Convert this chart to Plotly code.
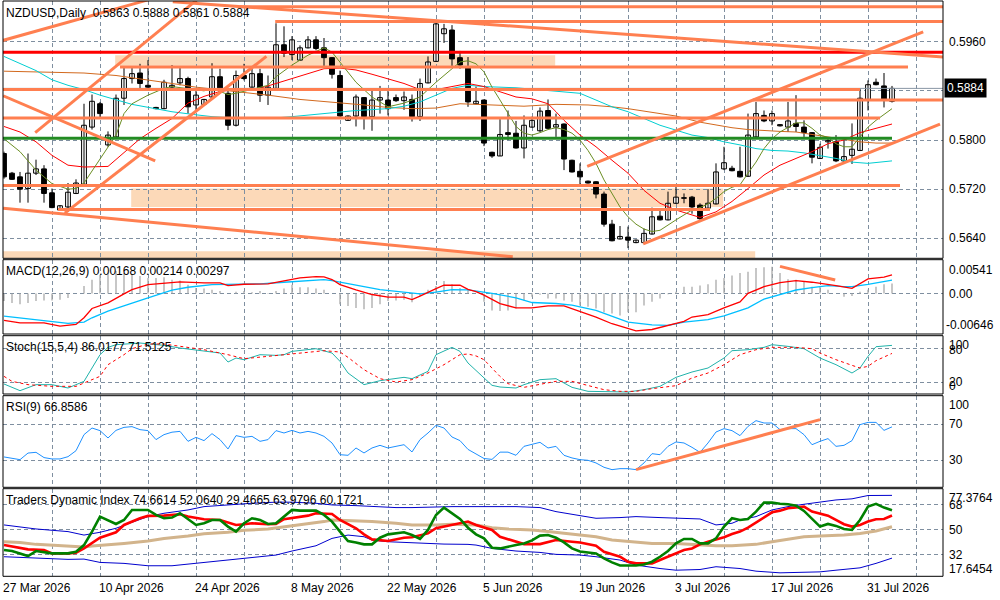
import plotly.graph_objects as go

# ---------------- DATA ----------------
date_labels = ["27 Mar 2026", "10 Apr 2026", "24 Apr 2026", "8 May 2026", "22 May 2026",
               "5 Jun 2026", "19 Jun 2026", "3 Jul 2026", "17 Jul 2026", "31 Jul 2026"]
date_label_bars = [0, 12, 24, 36, 48, 60, 72, 84, 96, 108]
grid_bars = list(range(0, 118, 6))

opens = [0.5778,0.5746,0.5740,0.5721,0.5746,0.5753,0.5714,0.5686,0.5691,0.5713,
         0.5728,0.5821,0.5859,0.5792,0.5805,0.5868,0.5900,0.5909,0.5889,0.5853,
         0.5851,0.5886,0.5893,0.5900,0.5857,0.5858,0.5870,0.5903,0.5876,0.5824,
         0.5905,0.5886,0.5908,0.5873,0.5884,0.5955,0.5939,0.5930,0.5950,0.5963,
         0.5950,0.5934,0.5905,0.5832,0.5839,0.5869,0.5838,0.5865,0.5865,0.5869,
         0.5864,0.5866,0.5838,0.5893,0.5928,0.5973,0.5979,0.5934,0.5919,0.5859,
         0.5865,0.5780,0.5774,0.5812,0.5811,0.5787,0.5821,0.5815,0.5848,0.5821,
         0.5826,0.5767,0.5749,0.5733,0.5732,0.5712,0.5663,0.5639,0.5642,0.5633,
         0.5633,0.5647,0.5676,0.5670,0.5697,0.5705,0.5707,0.5694,0.5689,0.5696,
         0.5753,0.5754,0.5749,0.5741,0.5805,0.5840,0.5831,0.5825,0.5821,0.5827,
         0.5821,0.5812,0.5770,0.5797,0.5797,0.5766,0.5775,0.5783,0.5866,0.5894,
         0.5888,0.5863]
highs = [0.5781,0.5748,0.5748,0.5778,0.5768,0.5759,0.5721,0.5694,0.5730,0.5736,
         0.5859,0.5874,0.5862,0.5814,0.5874,0.5920,0.5919,0.5924,0.5930,0.5854,
         0.5898,0.5922,0.5920,0.5903,0.5884,0.5867,0.5925,0.5916,0.5881,0.5913,
         0.5924,0.5916,0.5916,0.5905,0.5990,0.5985,0.5969,0.5954,0.5969,0.5969,
         0.5966,0.5935,0.5913,0.5840,0.5874,0.5870,0.5884,0.5888,0.5880,0.5874,
         0.5879,0.5874,0.5900,0.5936,0.5992,0.5989,0.5987,0.5945,0.5935,0.5887,
         0.5866,0.5781,0.5834,0.5848,0.5831,0.5840,0.5838,0.5853,0.5866,0.5843,
         0.5827,0.5768,0.5762,0.5734,0.5733,0.5716,0.5670,0.5660,0.5659,0.5638,
         0.5656,0.5690,0.5689,0.5716,0.5728,0.5713,0.5709,0.5697,0.5720,0.5762,
         0.5789,0.5758,0.5789,0.5843,0.5862,0.5848,0.5848,0.5826,0.5862,0.5873,
         0.5832,0.5813,0.5794,0.5805,0.5808,0.5799,0.5827,0.5884,0.5897,0.5900,
         0.5909,0.5888]
lows = [0.5737,0.5735,0.5698,0.5698,0.5743,0.5698,0.5689,0.5685,0.5683,0.5712,
        0.5727,0.5817,0.5835,0.5789,0.5804,0.5857,0.5892,0.5884,0.5881,0.5850,
        0.5850,0.5884,0.5889,0.5843,0.5849,0.5857,0.5867,0.5881,0.5816,0.5822,
        0.5897,0.5885,0.5862,0.5857,0.5882,0.5935,0.5930,0.5929,0.5949,0.5946,
        0.5920,0.5900,0.5838,0.5831,0.5822,0.5817,0.5815,0.5843,0.5840,0.5862,
        0.5849,0.5830,0.5831,0.5892,0.5927,0.5958,0.5919,0.5916,0.5854,0.5858,
        0.5790,0.5771,0.5774,0.5800,0.5786,0.5770,0.5820,0.5813,0.5818,0.5805,
        0.5751,0.5747,0.5724,0.5729,0.5705,0.5659,0.5635,0.5638,0.5624,0.5632,
        0.5632,0.5646,0.5669,0.5669,0.5696,0.5697,0.5680,0.5670,0.5688,0.5695,
        0.5751,0.5749,0.5739,0.5740,0.5804,0.5829,0.5824,0.5822,0.5813,0.5813,
        0.5805,0.5762,0.5769,0.5786,0.5764,0.5762,0.5761,0.5782,0.5848,0.5889,
        0.5853,0.5861]
closes = [0.5740,0.5736,0.5720,0.5746,0.5753,0.5713,0.5690,0.5693,0.5715,0.5730,
          0.5824,0.5863,0.5843,0.5808,0.5868,0.5900,0.5908,0.5892,0.5886,0.5851,
          0.5894,0.5889,0.5900,0.5854,0.5873,0.5866,0.5903,0.5884,0.5824,0.5905,
          0.5900,0.5908,0.5873,0.5886,0.5955,0.5941,0.5963,0.5950,0.5963,0.5949,
          0.5934,0.5907,0.5839,0.5839,0.5870,0.5838,0.5865,0.5869,0.5851,0.5864,
          0.5870,0.5838,0.5892,0.5927,0.5989,0.5981,0.5932,0.5922,0.5862,0.5863,
          0.5795,0.5774,0.5809,0.5809,0.5787,0.5824,0.5832,0.5847,0.5819,0.5825,
          0.5769,0.5748,0.5740,0.5730,0.5712,0.5663,0.5636,0.5643,0.5637,0.5637,
          0.5648,0.5675,0.5670,0.5697,0.5707,0.5706,0.5691,0.5672,0.5697,0.5748,
          0.5763,0.5750,0.5740,0.5808,0.5843,0.5831,0.5843,0.5823,0.5831,0.5822,
          0.5812,0.5772,0.5788,0.5799,0.5766,0.5773,0.5785,0.5868,0.5890,0.5890,
          0.5866,0.5884]

# moving averages (bar index, price)
ma_fast_x = [0,2,4,6,8,9,10,12,14,15,16,18,20,21,23,25,26,28,29,31,33,34,35,36,38,40,41,42,43,44,
             46,48,50,52,53,54,56,57,58,59,60,61,62,63,64,65,66,67,68,69,70,71,72,73,74,75,76,77,78,79,
             80,81,82,83,84,85,86,87,88,89,90,91,92,93,94,95,96,97,98,99,100,101,102,103,104,105,106,107,
             108,109,110,111]
ma_fast = [0.5802,0.5781,0.5751,0.5729,0.5720,0.5721,0.5730,0.5770,0.5808,0.5843,0.5859,0.5873,0.5884,
           0.5887,0.5884,0.5880,0.5884,0.5874,0.5876,0.5882,0.5889,0.5903,0.5913,0.5922,0.5938,0.5950,
           0.5943,0.5927,0.5911,0.5894,0.5870,0.5854,0.5860,0.5870,0.5882,0.5894,0.5916,0.5927,0.5929,
           0.5924,0.5911,0.5886,0.5865,0.5843,0.5822,0.5811,0.5808,0.5812,0.5817,0.5820,0.5817,0.5811,
           0.5800,0.5783,0.5762,0.5735,0.5713,0.5691,0.5675,0.5663,0.5655,0.5651,0.5653,0.5662,0.5670,
           0.5678,0.5686,0.5690,0.5696,0.5705,0.5716,0.5723,0.5727,0.5746,0.5764,0.5786,0.5802,0.5813,
           0.5821,0.5828,0.5828,0.5819,0.5808,0.5804,0.5794,0.5789,0.5789,0.5805,0.5821,0.5832,0.5841,
           0.5851]
ma_mid_x = [0,2,4,6,8,10,13,15,17,19,21,23,25,27,29,32,34,36,38,40,42,44,46,48,50,52,54,56,58,60,62,64,
            66,68,69,70,72,74,76,78,80,82,84,86,87,89,91,93,95,97,99,101,103,105,107,109,111]
ma_mid = [0.5822,0.5813,0.5797,0.5775,0.5759,0.5756,0.5757,0.5780,0.5802,0.5819,0.5835,0.5860,0.5871,
          0.5879,0.5882,0.5884,0.5892,0.5900,0.5907,0.5916,0.5917,0.5914,0.5907,0.5900,0.5892,0.5882,
          0.5882,0.5887,0.5892,0.5887,0.5878,0.5870,0.5867,0.5859,0.5846,0.5832,0.5808,0.5789,0.5767,
          0.5746,0.5718,0.5697,0.5686,0.5678,0.5674,0.5683,0.5700,0.5721,0.5743,0.5759,0.5770,0.5781,
          0.5794,0.5800,0.5812,0.5819,0.5826]
ma_slow_x = [0,4,6,8,10,12,16,19,21,24,26,30,34,36,40,44,48,50,52,54,56,58,60,64,67,70,72,74,76,78,80,82,
             84,86,88,90,92,94,96,98,100,102,104,106,108,111]
ma_slow = [0.5936,0.5913,0.5898,0.5889,0.5882,0.5873,0.5858,0.5851,0.5846,0.5841,0.5838,0.5835,0.5836,
           0.5838,0.5843,0.5848,0.5851,0.5855,0.5862,0.5873,0.5884,0.5889,0.5887,0.5885,0.5882,0.5879,
           0.5876,0.5865,0.5854,0.5846,0.5835,0.5824,0.5816,0.5808,0.5804,0.5797,0.5792,0.5786,0.5783,
           0.5782,0.5779,0.5775,0.5770,0.5764,0.5762,0.5766]
ma_long_x = [0,4,10,14,18,21,24,27,30,33,37,41,45,48,51,54,57,61,65,69,73,76,78,81,84,87,89,91,93,95,97,
             99,101,103,105,107,109,111]
ma_long = [0.5912,0.5911,0.5909,0.5905,0.5898,0.5892,0.5886,0.5882,0.5877,0.5873,0.5866,0.5862,0.5857,
           0.5853,0.5851,0.5852,0.5859,0.5857,0.5855,0.5858,0.5857,0.5854,0.5851,0.5845,0.5839,0.5829,
           0.5824,0.5820,0.5817,0.5815,0.5814,0.5813,0.5809,0.5804,0.5800,0.5797,0.5795,0.5795]

price_ticks = [0.5640, 0.5720, 0.5800, 0.5880, 0.5960]
price_tick_text = ["0.5640", "0.5720", "0.5800", "0.5880", "0.5960"]
last_price = 0.5884

# drawn objects: horizontal levels, trend lines, zones (bar index / price)
level_prices = [0.6017, 0.5993, 0.5919, 0.5865, 0.5882, 0.5836, 0.5726, 0.5687]
level_start = [29.5, 33.9, 14.5, 93.6, -0.5, -0.5, -0.5, 6.75]
level_end = [117.4, 117.4, 113.0, 117.4, 107.0, 109.5, 112.0, 88.25]
red_level = 0.5943
green_level = 0.5803
green_level_end = 111.0
trend_i0 = [-0.16, 3.9, 7.6, -0.1, 21.1, 72.9, 79.9, -0.1]
trend_p0 = [0.5962, 0.5812, 0.5681, 0.5872, 0.6025, 0.5757, 0.5631, 0.5689]
trend_i1 = [18.0, 24.1, 32.8, 18.9, 117.4, 114.9, 117.0, 63.6]
trend_p1 = [0.6028, 0.6028, 0.5936, 0.5766, 0.5935, 0.5976, 0.5826, 0.5610]
zone_top = [0.5938, 0.5721, 0.5619]
zone_bot = [0.5921, 0.5691, 0.5608]
zone_start = [13.9, 15.9, -0.5]
zone_end = [68.9, 89.9, 93.9]

# MACD
macd_hist = [-0.0012,-0.0015,-0.0017,-0.0015,-0.0012,-0.0011,-0.0011,-0.0010,-0.0007,0.0000,
             0.0012,0.0022,0.0030,0.0033,0.0036,0.0033,0.0030,0.0028,0.0025,0.0025,
             0.0026,0.0022,0.0021,0.0014,0.0009,0.0008,0.0006,0.0004,0.0000,0.0003,
             0.0004,0.0002,0.0004,0.0001,0.0004,0.0008,0.0014,0.0010,0.0010,0.0008,
             0.0006,0.0000,-0.0017,-0.0020,-0.0023,-0.0025,-0.0023,-0.0017,-0.0012,-0.0011,
             -0.0010,-0.0014,-0.0004,0.0006,0.0012,0.0020,0.0015,0.0009,0.0006,0.0000,
             -0.0013,-0.0027,-0.0028,-0.0027,-0.0024,-0.0011,-0.0005,-0.0002,-0.0008,-0.0008,
             -0.0011,-0.0013,-0.0019,-0.0021,-0.0024,-0.0030,-0.0032,-0.0035,-0.0030,-0.0030,
             -0.0019,-0.0013,-0.0008,-0.0001,0.0003,0.0011,0.0011,0.0013,0.0015,0.0022,
             0.0025,0.0029,0.0033,0.0035,0.0041,0.0042,0.0043,0.0033,0.0023,0.0022,
             0.0019,0.0011,0.0011,0.0006,0.0000,-0.0005,-0.0004,0.0003,0.0006,0.0011,
             0.0015,0.0016]
macd_red_x = [0,2,5,7,9,10,11,13,15,16,18,21,22,25,27,28,30,33,35,37,39,40,41,42,44,46,48,50,51,52,54,55,
              57,58,59,60,62,64,66,68,70,72,74,76,78,79,81,83,85,86,88,90,92,93,95,97,99,101,103,104,106,
              107,108,110,111]
macd_red = [-0.00430,-0.00467,-0.00467,-0.00520,-0.00493,-0.00387,-0.00238,-0.00148,-0.00005,0.00064,
            0.00144,0.00176,0.00186,0.00170,0.00170,0.00128,0.00149,0.00155,0.00208,0.00250,0.00271,
            0.00266,0.00224,0.00144,0.00059,-0.00015,-0.00058,-0.00058,-0.00095,-0.00042,0.00080,
            0.00133,0.00133,0.00067,0.00030,-0.00024,-0.00159,-0.00229,-0.00229,-0.00197,-0.00197,
            -0.00283,-0.00375,-0.00482,-0.00563,-0.00596,-0.00574,-0.00509,-0.00445,-0.00375,-0.00337,
            -0.00229,-0.00132,0.00003,0.00110,0.00175,0.00208,0.00181,0.00137,0.00127,0.00084,0.00164,
            0.00234,0.00261,0.00297]
macd_cyan_x = [0,4,8,10,11,13,15,18,21,23,26,29,32,35,38,40,41,43,45,47,50,52,54,56,58,61,64,66,69,71,74,
               76,78,81,83,85,88,90,93,95,97,99,101,103,105,106,108,111]
macd_cyan = [-0.00361,-0.00414,-0.00477,-0.00456,-0.00387,-0.00281,-0.00191,-0.00068,0.00054,0.00101,
             0.00144,0.00144,0.00155,0.00181,0.00213,0.00224,0.00208,0.00155,0.00112,0.00064,0.00022,
             -0.00005,0.00022,0.00064,0.00060,0.00003,-0.00067,-0.00143,-0.00159,-0.00186,-0.00267,
             -0.00358,-0.00455,-0.00499,-0.00509,-0.00455,-0.00418,-0.00358,-0.00229,-0.00089,-0.00013,
             0.00057,0.00094,0.00127,0.00110,0.00110,0.00148,0.00214]
macd_tl_i = [97.0, 103.9]
macd_tl_v = [0.00434, 0.00218]

# Stochastic
stoch_k_x = [0,2,4,6,8,10,11,12,13,14,17,20,22,25,27,28,29,30,32,34,35,36,38,39,41,42,43,45,47,48,50,51,
             53,54,56,57,58,61,62,64,65,67,69,70,71,73,75,78,80,82,84,86,88,90,91,93,95,96,98,100,102,
             104,106,107,108,109,111]
stoch_k = [16.4,4.4,15.2,15.2,9.2,21.2,45.2,69.2,82.4,87.2,90.2,86.0,81.2,75.2,72.2,56.0,63.2,60.2,69.2,
           68.0,69.2,75.2,78.2,80.0,72.2,57.2,36.2,15.2,22.4,24.2,28.4,26.0,39.2,69.2,82.4,75.2,54.2,14.0,
           11.0,9.2,15.2,24.2,26.0,18.2,10.4,3.2,3.2,2.0,6.2,12.2,28.4,38.0,45.2,63.2,76.4,78.2,82.4,87.2,
           84.2,80.0,63.2,51.2,36.2,45.2,66.2,83.6,86.0]
stoch_d_x = [0,1,3,6,9,10,12,13,15,16,18,20,23,25,28,30,33,35,38,40,42,43,45,47,49,51,53,55,57,58,59,60,
             62,63,65,67,69,71,73,75,77,79,81,84,86,88,90,92,94,96,99,101,102,104,106,107,108,109,111]
stoch_d = [30.2,21.2,15.2,12.2,12.2,18.2,30.2,51.2,69.2,80.0,88.4,88.4,82.4,78.2,69.2,62.0,66.2,69.2,
           74.0,76.4,74.0,64.4,42.2,26.0,20.0,24.2,36.2,51.2,69.2,70.4,67.0,60.2,30.0,17.0,10.4,16.4,
           21.2,21.2,14.0,6.2,3.2,3.2,8.0,13.4,27.2,36.2,51.2,69.2,78.2,82.4,82.4,80.0,72.2,60.2,50.0,
           45.2,48.2,58.4,71.5]

# RSI(9)
rsi = [33.7,32.6,30.7,38.0,38.8,33.0,31.5,31.5,34.0,40.6,
       58.3,65.6,62.7,54.6,63.0,66.3,67.1,63.8,62.7,52.8,
       58.3,61.0,61.9,50.9,55.3,51.7,59.4,52.8,42.5,57.2,
       55.3,56.4,50.9,52.8,62.7,60.1,63.0,60.1,61.9,60.1,
       56.4,49.1,36.2,35.5,43.6,38.1,43.6,46.5,43.6,45.4,
       47.2,39.2,52.8,60.1,68.5,65.6,55.7,51.7,42.0,37.0,
       32.0,31.0,39.0,39.0,35.5,45.4,47.2,49.8,43.6,45.4,
       35.5,32.6,30.7,30.0,27.1,22.3,19.7,20.8,20.8,19.7,
       27.1,37.3,36.2,45.4,50.2,49.1,44.3,38.8,49.1,61.2,
       64.9,62.7,57.2,67.4,73.7,71.1,71.1,63.8,64.9,64.9,
       58.3,47.2,50.9,53.9,45.4,46.5,51.7,69.3,71.8,71.8,
       63.0,66.86]
rsi_tl_i = [79.0, 102.0]
rsi_tl_v = [19.7, 74.8]

# Traders Dynamic Index
tdi_green_x = [0,1,3,4,6,8,9,10,11,12,14,15,16,18,19,20,21,22,24,25,26,27,28,29,30,31,32,33,34,35,36,37,
               39,40,41,42,43,44,45,46,47,48,50,51,52,53,54,55,56,57,58,59,60,61,62,63,64,65,66,67,68,69,
               70,71,72,73,74,75,76,77,78,79,80,81,82,83,84,85,86,87,88,89,90,91,92,93,94,95,96,97,98,99,
               100,101,102,103,104,105,106,107,108,109,110,111]
tdi_green = [35.3,34.6,31.0,34.6,32.9,32.9,34.1,38.9,48.6,59.4,54.1,57.0,64.2,64.2,60.6,58.2,58.7,61.8,
             53.4,54.6,57.0,57.0,52.2,48.6,54.6,58.2,57.0,54.1,54.6,59.4,64.2,63.7,63.7,60.6,55.8,48.6,
             41.8,40.8,39.4,39.4,44.2,46.6,48.1,46.1,43.3,49.8,60.6,65.9,61.8,57.7,51.4,46.6,43.7,37.0,
             36.5,37.5,38.9,40.1,42.3,45.7,46.1,44.2,40.8,36.5,34.3,33.6,32.9,29.3,26.4,24.2,24.0,24.2,
             24.9,26.9,30.5,34.6,40.1,43.3,43.3,40.1,40.1,43.7,52.2,58.2,57.0,57.7,63.0,69.5,69.5,68.6,
             68.3,67.3,63.5,58.2,52.2,54.1,52.7,50.5,49.8,57.0,66.6,68.6,65.9,64.0]
tdi_red_x = [0,1,3,5,6,8,9,10,11,12,14,15,17,18,20,21,22,23,25,27,29,30,31,33,34,35,37,38,39,41,42,44,45,
             46,48,50,51,53,54,56,58,59,61,62,64,65,67,68,69,71,72,74,75,77,78,79,81,82,83,84,85,86,87,88,
             89,90,91,92,93,94,95,96,97,98,100,101,103,104,105,106,107,108,109,110,111]
tdi_red = [38.9,37.7,35.8,35.3,32.9,32.9,33.4,36.5,40.1,44.2,48.1,53.4,58.2,59.9,60.1,60.6,61.1,59.4,
           57.5,57.0,53.4,53.9,54.6,53.9,54.1,57.5,59.4,60.1,61.8,61.3,57.0,51.0,46.6,43.0,41.8,44.2,
           44.5,47.3,51.0,53.4,55.8,53.4,49.8,44.9,41.3,39.6,39.6,41.3,42.5,41.3,40.8,38.4,34.1,30.5,
           26.9,25.7,25.7,28.1,30.5,32.9,35.3,36.5,39.4,41.3,43.0,44.5,46.9,48.6,51.4,55.3,58.7,62.5,
           63.7,65.4,66.6,63.0,60.1,57.0,53.9,52.2,53.4,55.8,57.5,57.7,60.2]
tdi_base_x = [0,2,4,6,8,10,11,13,15,18,20,23,25,28,30,33,35,38,40,41,44,46,49,51,54,56,59,61,63,66,68,71,
              74,76,79,81,84,86,89,91,94,96,98,100,102,105,107,109,111]
tdi_base = [41.3,40.8,39.4,38.9,38.2,37.5,38.2,38.9,40.1,41.8,43.7,45.4,47.1,48.1,49.5,50.5,51.9,53.9,
            55.8,57.0,56.5,55.8,54.6,53.4,53.4,53.9,53.4,51.4,50.5,49.8,48.6,46.6,44.9,42.5,41.3,40.1,
            40.1,39.4,38.4,38.4,39.4,41.3,43.0,44.9,45.4,46.1,47.3,49.0,52.1]
tdi_up_x = [0,4,8,10,12,14,16,18,20,23,25,29,31,34,36,39,41,44,46,49,51,54,56,59,61,64,67,69,72,74,77,79,
            82,84,87,89,91,92,94,96,98,100,102,104,106,108,111]
tdi_up = [53.4,50.5,48.6,46.1,48.1,51.0,55.3,59.4,61.8,64.2,66.6,68.3,69.0,69.8,69.8,69.0,67.8,67.3,66.6,
          65.9,65.9,66.6,66.6,66.6,66.6,66.6,65.9,63.0,60.1,58.2,58.7,59.4,58.7,58.2,57.7,53.4,54.6,57.0,
          59.4,64.2,66.6,68.3,69.8,71.4,72.2,74.6,74.7]
tdi_lo_x = [0,4,8,10,12,15,18,21,24,26,29,31,34,36,39,41,43,45,46,48,50,53,55,58,59,61,64,67,69,72,74,77,
            79,82,84,87,89,92,94,97,99,102,104,107,109,111]
tdi_lo = [30.5,29.3,28.6,28.8,26.4,25.7,24.0,24.0,25.7,27.3,28.6,29.8,31.7,34.6,38.4,43.7,46.1,44.9,42.5,
          41.3,40.8,39.6,39.6,39.4,38.9,36.5,34.6,33.6,32.2,31.7,30.5,28.1,24.5,22.0,20.8,21.3,23.3,22.0,
          20.1,18.9,19.2,19.6,20.8,22.5,25.7,29.5]

# ---------------- FIGURE ----------------
W, H = 1000, 600
FONT = "Liberation Sans"
GRID = "#7f8fa0"
CORAL = "#ff7f50"
PEACH = "#fcd9b8"
X_RANGE = [-0.125, 117.375]
XD = [3 / W, 943 / W]


def pv(px):
    return 1 - px / H


DOM = {
    "main": [pv(258.3), pv(1)],
    "macd": [pv(334), pv(259.7)],
    "stoch": [pv(394), pv(335.7)],
    "rsi": [pv(487.3), pv(395.7)],
    "tdi": [pv(576.3), pv(488.7)],
}

n = len(opens)
idx = list(range(n))
fig = go.Figure()

# candle wicks
wx, wy = [], []
for i in idx:
    wx += [i, i, None]
    wy += [lows[i], highs[i], None]
fig.add_trace(go.Scatter(x=wx, y=wy, mode="lines", line=dict(color="black", width=1),
                         xaxis="x", yaxis="y", hoverinfo="skip"))
# candle bodies
bases = [min(o, c) for o, c in zip(opens, closes)]
heights = [max(abs(c - o), 0.00012) for o, c in zip(opens, closes)]
fills = ["white" if c >= o else "black" for o, c in zip(opens, closes)]
fig.add_trace(go.Bar(x=idx, y=heights, base=bases, width=0.6,
                     marker=dict(color=fills, line=dict(color="black", width=1)),
                     xaxis="x", yaxis="y", hoverinfo="skip"))

# moving averages
for xs, ys, col in [(ma_long_x, ma_long, "#d2691e"), (ma_slow_x, ma_slow, "#00ced1"),
                    (ma_mid_x, ma_mid, "#ff0000"), (ma_fast_x, ma_fast, "#6b8e23")]:
    fig.add_trace(go.Scatter(x=xs, y=ys, mode="lines", line=dict(color=col, width=1),
                             xaxis="x", yaxis="y", hoverinfo="skip"))

# bid line
fig.add_trace(go.Scatter(x=X_RANGE, y=[last_price, last_price], mode="lines",
                         line=dict(color="#8896a4", width=1), xaxis="x", yaxis="y", hoverinfo="skip"))

# drawn levels and trend lines
for p, a, b in zip(level_prices, level_start, level_end):
    fig.add_trace(go.Scatter(x=[a, b], y=[p, p], mode="lines", line=dict(color=CORAL, width=3),
                             xaxis="x", yaxis="y", hoverinfo="skip"))
fig.add_trace(go.Scatter(x=[-0.5, 117.4], y=[red_level, red_level], mode="lines",
                         line=dict(color="#ff0000", width=3), xaxis="x", yaxis="y", hoverinfo="skip"))
fig.add_trace(go.Scatter(x=[-0.5, green_level_end], y=[green_level, green_level], mode="lines",
                         line=dict(color="#228b22", width=3), xaxis="x", yaxis="y", hoverinfo="skip"))
for a, pa, b, pb in zip(trend_i0, trend_p0, trend_i1, trend_p1):
    fig.add_trace(go.Scatter(x=[a, b], y=[pa, pb], mode="lines", line=dict(color=CORAL, width=3),
                             xaxis="x", yaxis="y", hoverinfo="skip"))

# MACD
fig.add_trace(go.Bar(x=idx, y=macd_hist, width=0.16, marker=dict(color="#a8a8a8", line=dict(width=0)),
                     xaxis="x2", yaxis="y2", hoverinfo="skip"))
fig.add_trace(go.Scatter(x=macd_cyan_x, y=macd_cyan, mode="lines", line=dict(color="#00bfff", width=1.3),
                         xaxis="x2", yaxis="y2", hoverinfo="skip"))
fig.add_trace(go.Scatter(x=macd_red_x, y=macd_red, mode="lines", line=dict(color="#ff0000", width=1.3),
                         xaxis="x2", yaxis="y2", hoverinfo="skip"))
fig.add_trace(go.Scatter(x=macd_tl_i, y=macd_tl_v, mode="lines", line=dict(color=CORAL, width=3),
                         xaxis="x2", yaxis="y2", hoverinfo="skip"))

# Stochastic
fig.add_trace(go.Scatter(x=stoch_k_x, y=stoch_k, mode="lines", line=dict(color="#20b2aa", width=1),
                         xaxis="x3", yaxis="y3", hoverinfo="skip"))
fig.add_trace(go.Scatter(x=stoch_d_x, y=stoch_d, mode="lines",
                         line=dict(color="#ff0000", width=1, dash="3px,3px"),
                         xaxis="x3", yaxis="y3", hoverinfo="skip"))

# RSI
fig.add_trace(go.Scatter(x=idx, y=rsi, mode="lines", line=dict(color="#1e90ff", width=1),
                         xaxis="x4", yaxis="y4", hoverinfo="skip"))
fig.add_trace(go.Scatter(x=rsi_tl_i, y=rsi_tl_v, mode="lines", line=dict(color=CORAL, width=3),
                         xaxis="x4", yaxis="y4", hoverinfo="skip"))

# TDI
for xs, ys, col, w in [(tdi_up_x, tdi_up, "#0000cd", 1), (tdi_lo_x, tdi_lo, "#0000cd", 1),
                       (tdi_base_x, tdi_base, "#d2b48c", 3), (tdi_red_x, tdi_red, "#ff0000", 2.6),
                       (tdi_green_x, tdi_green, "#008000", 2.6)]:
    fig.add_trace(go.Scatter(x=xs, y=ys, mode="lines", line=dict(color=col, width=w),
                             xaxis="x5", yaxis="y5", hoverinfo="skip"))

# zones (rectangles behind)
shapes = []
for t, b, a, e in zip(zone_top, zone_bot, zone_start, zone_end):
    shapes.append(dict(type="rect", xref="x", yref="y", x0=a, x1=e, y0=b, y1=t,
                       fillcolor=PEACH, line=dict(width=0), layer="below"))
for key in DOM:
    shapes.append(dict(type="rect", xref="paper", yref="paper", x0=XD[0], x1=XD[1],
                       y0=DOM[key][0], y1=DOM[key][1], line=dict(color="black", width=1),
                       fillcolor="rgba(0,0,0,0)", layer="above"))


def xax(anchor, match=True):
    d = dict(domain=XD, range=X_RANGE, anchor=anchor, tickvals=grid_bars, showticklabels=False,
             showgrid=True, gridcolor=GRID, griddash="4px,3px", gridwidth=1, zeroline=False,
             showline=False, ticks="", fixedrange=True)
    if match:
        d["matches"] = "x"
    return d


def yax(dom, rng, gvals, anchor):
    return dict(domain=dom, range=rng, anchor=anchor, side="right", tickvals=gvals,
                showticklabels=False, showgrid=True, gridcolor=GRID, griddash="4px,3px",
                gridwidth=1, zeroline=False, showline=False, ticks="", fixedrange=True)


ann = []
TXT = dict(family=FONT, size=12, color="black")
LX = 0.947


def rlabel(text, yref, val, shift=0, xshift=0, anchor="middle"):
    ann.append(dict(text=text, xref="paper", x=LX, xanchor="left", yref=yref, y=val,
                    yanchor=anchor, yshift=shift, xshift=xshift, showarrow=False, font=TXT))


for v, t in zip(price_ticks, price_tick_text):
    rlabel(t, "y", v)
ann.append(dict(text="0.5884", xref="paper", x=944 / W, xanchor="left", yref="y", y=last_price,
                yanchor="middle", showarrow=False, bgcolor="black", borderpad=2,
                font=dict(family=FONT, size=12, color="white")))
rlabel("0.00541", "y2", 0.00541, anchor="top", shift=-1)
rlabel("0.00", "y2", 0.0)
rlabel("-0.00646", "y2", -0.00646, anchor="bottom", xshift=-3)
rlabel("100", "y3", 100, shift=-7.8)
rlabel("80", "y3", 80, shift=-1)
rlabel("20", "y3", 20)
rlabel("0", "y3", 0, shift=6.7)
rlabel("100", "y4", 100, shift=-8.2)
rlabel("70", "y4", 70)
rlabel("30", "y4", 30)
rlabel("0", "y4", 0, shift=8.2)
rlabel("77.3764", "y5", 77.3764, shift=-6.2)
rlabel("68", "y5", 68)
rlabel("50", "y5", 50)
rlabel("32", "y5", 32)
rlabel("17.6454", "y5", 17.6454, shift=5.7)

# panel titles
for text, ypx in [("NZDUSD,Daily  0.5863 0.5888 0.5861 0.5884", 13),
                  ("MACD(12,26,9) 0.00168 0.00214 0.00297", 270.7),
                  ("Stoch(15,5,4) 86.0177 71.5125", 347.3),
                  ("RSI(9) 66.8586", 407.3),
                  ("Traders Dynamic Index 74.6614 52.0640 29.4665 63.9796 60.1721", 500.3)]:
    ann.append(dict(text=text, xref="paper", x=4 / W, xanchor="left", yref="paper", y=pv(ypx),
                    yanchor="middle", showarrow=False, font=TXT))

# date labels
for b, t in zip(date_label_bars, date_labels):
    ann.append(dict(text=t, xref="x", x=b, xanchor="left", xshift=-3, yref="paper", y=pv(588),
                    yanchor="middle", showarrow=False, font=TXT))

fig.update_layout(
    width=W, height=H, margin=dict(l=0, r=0, t=0, b=0),
    paper_bgcolor="white", plot_bgcolor="white", showlegend=False, barmode="overlay",
    font=dict(family=FONT, size=12, color="black"),
    xaxis=xax("y", match=False), xaxis2=xax("y2"), xaxis3=xax("y3"), xaxis4=xax("y4"), xaxis5=xax("y5"),
    yaxis=yax(DOM["main"], [0.560745, 0.602624], price_ticks, "x"),
    yaxis2=yax(DOM["macd"], [-0.00646, 0.00541], [0.0], "x2"),
    yaxis3=yax(DOM["stoch"], [-1.6, 103.4], [20, 80], "x3"),
    yaxis4=yax(DOM["rsi"], [0.25, 101.2], [30, 70], "x4"),
    yaxis5=yax(DOM["tdi"], [16.4, 79.5], [32, 50, 68], "x5"),
    shapes=shapes, annotations=ann, hovermode=False,
)

fig.write_html("out.html", config={"displayModeBar": False, "staticPlot": True},
               post_script="document.body.style.margin='0px';")
